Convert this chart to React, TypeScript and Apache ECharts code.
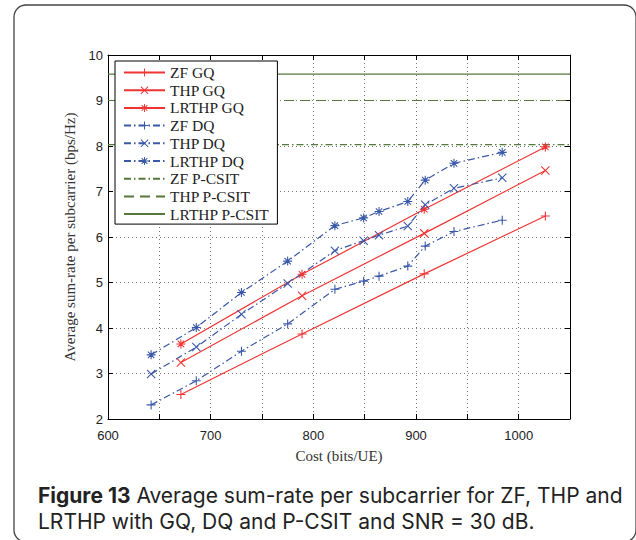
import React, { useEffect, useRef } from "react";
import * as echarts from "echarts";

// ---- data ----
const xGQ = [671, 789, 908, 1026];
const zfGQ = [2.54, 3.87, 5.19, 6.46];
const thpGQ = [3.24, 4.71, 6.08, 7.46];
const lrthpGQ = [3.65, 5.18, 6.61, 7.98];

const xDQ = [642, 686, 730, 775, 821, 849, 864, 892, 909, 937, 984];
const zfDQ = [2.31, 2.84, 3.49, 4.09, 4.85, 5.03, 5.14, 5.36, 5.8, 6.12, 6.37];
const thpDQ = [2.99, 3.58, 4.3, 4.98, 5.7, 5.92, 6.04, 6.24, 6.71, 7.07, 7.3];
const lrthpDQ = [3.41, 4.01, 4.78, 5.47, 6.25, 6.42, 6.56, 6.78, 7.25, 7.62, 7.86];

const pcsitX = [600, 1050];
const zfPCSIT = [8.03, 8.03];
const thpPCSIT = [9.0, 9.0];
const lrthpPCSIT = [9.58, 9.58];

const xTicks = [600, 700, 800, 900, 1000];

const seriesNames = [
  "ZF GQ",
  "THP GQ",
  "LRTHP GQ",
  "ZF DQ",
  "THP DQ",
  "LRTHP DQ",
  "ZF P-CSIT",
  "THP P-CSIT",
  "LRTHP P-CSIT",
];

const RED = "#f03434";
const BLUE = "#3a58a8";
const GREEN = "#56783a";

const PLUS = "path://M4.4,0H5.6V4.4H10V5.6H5.6V10H4.4V5.6H0V4.4H4.4Z";
const CROSS =
  "path://M0,0.85L0.85,0L5,4.15L9.15,0L10,0.85L5.85,5L10,9.15L9.15,10L5,5.85L0.85,10L0,9.15L4.15,5Z";
const STAR =
  "path://M4.4,0H5.6V4.4H10V5.6H5.6V10H4.4V5.6H0V4.4H4.4Z M1,1.85L1.85,1L5,4.15L8.15,1L9,1.85L5.85,5L9,8.15L8.15,9L5,5.85L1.85,9L1,8.15L4.15,5Z";

const zip = (xs: number[], ys: number[]) => xs.map((x, i) => [x, ys[i]]);

export default function App() {
  const ref = useRef<HTMLDivElement>(null);
  useEffect(() => {
    if (!ref.current) return;
    const chart = echarts.init(ref.current, undefined, { renderer: "svg" });
    const dashDot = [7, 3, 1.5, 3];
    const mk = (
      name: string,
      xs: number[],
      ys: number[],
      color: string,
      symbol: string,
      type: any
    ) => ({
      name,
      type: "line",
      data: zip(xs, ys),
      symbol,
      symbolSize: 9,
      showSymbol: symbol !== "none",
      itemStyle: { color },
      lineStyle: { color, width: 1.2, type },
      emphasis: { disabled: true },
      z: 3,
    });
    const series = [
      mk(seriesNames[0], xGQ, zfGQ, RED, PLUS, "solid"),
      mk(seriesNames[1], xGQ, thpGQ, RED, CROSS, "solid"),
      mk(seriesNames[2], xGQ, lrthpGQ, RED, STAR, "solid"),
      mk(seriesNames[3], xDQ, zfDQ, BLUE, PLUS, dashDot),
      mk(seriesNames[4], xDQ, thpDQ, BLUE, CROSS, dashDot),
      mk(seriesNames[5], xDQ, lrthpDQ, BLUE, STAR, dashDot),
      mk(seriesNames[6], pcsitX, zfPCSIT, GREEN, "none", dashDot),
      mk(seriesNames[7], pcsitX, thpPCSIT, GREEN, "none", [10, 6]),
      mk(seriesNames[8], pcsitX, lrthpPCSIT, GREEN, "none", "solid"),
    ];
    const legendData = seriesNames.map((n, i) =>
      i >= 6 ? { name: n, itemStyle: { opacity: 0 } } : { name: n }
    );
    const tickLabel = {
      fontFamily: "Liberation Sans, Arial, sans-serif",
      fontSize: 13,
      color: "#222",
    };
    const nameStyle = {
      fontFamily: "Liberation Serif, Times New Roman, serif",
      fontSize: 15,
      color: "#333",
    };
    const capFont = "Inter, Open Sans, sans-serif";
    const dotted = { show: true, lineStyle: { type: [1, 3], color: "#555", width: 0.8 } };
    chart.setOption({
      animation: false,
      backgroundColor: "#fff",
      grid: { left: 108, right: 66, top: 55, bottom: 121, containLabel: false },
      legend: {
        data: legendData,
        orient: "vertical",
        left: 115,
        top: 61,
        padding: [3.5, 8, 2, 8],
        itemWidth: 41,
        itemHeight: 10,
        itemGap: 1.7,
        backgroundColor: "#fff",
        borderColor: "#000",
        borderWidth: 1,
        borderRadius: 0,
        selectedMode: false,
        textStyle: {
          fontFamily: "Liberation Serif, Times New Roman, serif",
          fontSize: 15.5,
          color: "#222",
          lineHeight: 16,
        },
        z: 10,
      },
      xAxis: [
        {
          type: "value",
          min: 600,
          max: 1050,
          interval: 50,
          position: "bottom",
          axisLine: { show: true, onZero: false, lineStyle: { color: "#000", width: 1 } },
          axisTick: { show: true, inside: true, length: 5, lineStyle: { color: "#000" } },
          axisLabel: {
            ...tickLabel,
            margin: 10,
            formatter: (v: number) => (xTicks.includes(v) ? String(v) : ""),
          },
          splitLine: dotted,
          name: "Cost (bits/UE)",
          nameLocation: "middle",
          nameGap: 29,
          nameTextStyle: nameStyle,
        },
        {
          type: "value",
          min: 600,
          max: 1050,
          interval: 50,
          position: "top",
          axisLine: { show: true, onZero: false, lineStyle: { color: "#000", width: 1 } },
          axisTick: { show: true, inside: true, length: 5, lineStyle: { color: "#000" } },
          axisLabel: { show: false },
          splitLine: { show: false },
        },
      ],
      yAxis: [
        {
          type: "value",
          min: 2,
          max: 10,
          interval: 1,
          position: "left",
          axisLine: { show: true, onZero: false, lineStyle: { color: "#000", width: 1 } },
          axisTick: { show: true, inside: true, length: 5, lineStyle: { color: "#000" } },
          axisLabel: { ...tickLabel, margin: 5 },
          splitLine: dotted,
          name: "Average sum-rate per subcarrier (bps/Hz)",
          nameLocation: "middle",
          nameGap: 24,
          nameTextStyle: nameStyle,
        },
        {
          type: "value",
          min: 2,
          max: 10,
          interval: 1,
          position: "right",
          axisLine: { show: true, onZero: false, lineStyle: { color: "#000", width: 1 } },
          axisTick: { show: true, inside: true, length: 5, lineStyle: { color: "#000" } },
          axisLabel: { show: false },
          splitLine: { show: false },
        },
      ],
      series,
      graphic: [
        {
          type: "rect",
          shape: { x: 14, y: 5, width: 622, height: 537, r: 12 },
          style: { fill: "none", stroke: "#444", lineWidth: 1.3 },
          silent: true,
          z: 0,
        },
        {
          type: "text",
          x: 38,
          y: 483,
          style: {
            text: "{b|Figure 13} Average sum-rate per subcarrier for ZF, THP and",
            fontFamily: capFont,
            fontSize: 21,
            lineHeight: 24,
            fill: "#222",
            rich: {
              b: {
                fontFamily: capFont,
                fontSize: 21,
                lineHeight: 24,
                fontWeight: "bold",
                fill: "#222",
              },
            },
          },
          z: 5,
        },
        {
          type: "text",
          x: 38,
          y: 509,
          style: {
            text: "LRTHP with GQ, DQ and P-CSIT and SNR = 30 dB.",
            fontFamily: capFont,
            fontSize: 21,
            lineHeight: 24,
            fill: "#222",
          },
          z: 5,
        },
      ],
    });
    return () => chart.dispose();
  }, []);
  return (
    <div
      ref={ref}
      style={{ position: "absolute", left: 0, top: 0, width: 636, height: 540 }}
    />
  );
}
